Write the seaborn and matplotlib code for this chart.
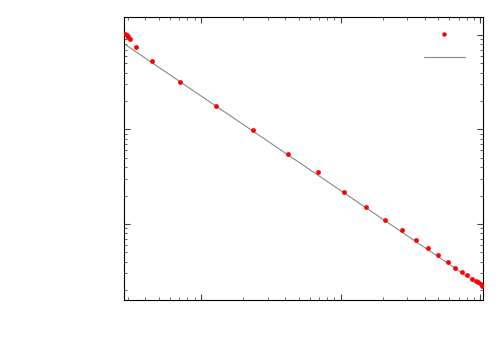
import numpy as np
import pandas as pd
import matplotlib
matplotlib.use("Agg")
import matplotlib.pyplot as plt
import seaborn as sns
from matplotlib.lines import Line2D

# measured points (log-log)
x_vals = [0.286, 0.294, 0.299, 0.309, 0.342, 0.448, 0.707, 1.28, 2.37, 4.20,
          6.91, 10.6, 15.3, 20.8, 27.3, 34.4, 42.0, 50.1, 58.6, 66.3,
          73.9, 80.2, 87.1, 92.5, 96.9, 100.2, 103.2]
y_vals = [1.017, 1.0, 0.959, 0.901, 0.746, 0.535, 0.318, 0.177, 0.0976, 0.0550,
          0.0354, 0.0218, 0.0151, 0.0110, 0.00860, 0.00685, 0.00562, 0.00470, 0.00396, 0.00346,
          0.00314, 0.00287, 0.00265, 0.00251, 0.00241, 0.00231, 0.00223]

# power-law fit line (end points)
fit_x = [0.281, 104.4]
fit_y = [0.809, 0.00215]

df = pd.DataFrame({"x": x_vals, "y": y_vals})
fit = pd.DataFrame({"x": fit_x, "y": fit_y})

sns.set_style("ticks")
plt.rcParams["font.family"] = ["DejaVu Sans"]

fig = plt.figure(figsize=(5, 3.5), dpi=100)
ax = fig.add_axes([0.248, 0.1429, 0.718, 0.8085])

sns.lineplot(x="x", y="y", data=fit, color="#888888", linewidth=0.8, ax=ax)
sns.scatterplot(x="x", y="y", data=df, color="red", s=12, linewidth=0, ax=ax, zorder=3)

ax.set_xscale("log")
ax.set_yscale("log")
ax.set_xlim(0.281, 104.4)
ax.set_ylim(0.00157, 1.55)
ax.set_xlabel("")
ax.set_ylabel("")

for s in ax.spines.values():
    s.set_visible(True)
    s.set_color("black")
    s.set_linewidth(0.8)

ax.tick_params(which="both", direction="in", top=True, right=True,
               labelbottom=False, labelleft=False, color="#444444")
ax.tick_params(which="major", length=4, width=0.8)
ax.tick_params(which="minor", length=2, width=0.6)

handles = [
    Line2D([], [], color="red", marker="o", linestyle="none", markersize=3.2, markeredgewidth=0),
    Line2D([], [], color="#888888", linewidth=0.8),
]
ax.legend(handles, ["", ""], loc="upper right", frameon=False, handlelength=2.95,
          labelspacing=0.6, handletextpad=0.0, borderaxespad=0.6,
          bbox_to_anchor=(0.988, 1.01), fontsize=10)

fig.savefig("out.png", dpi=100)
